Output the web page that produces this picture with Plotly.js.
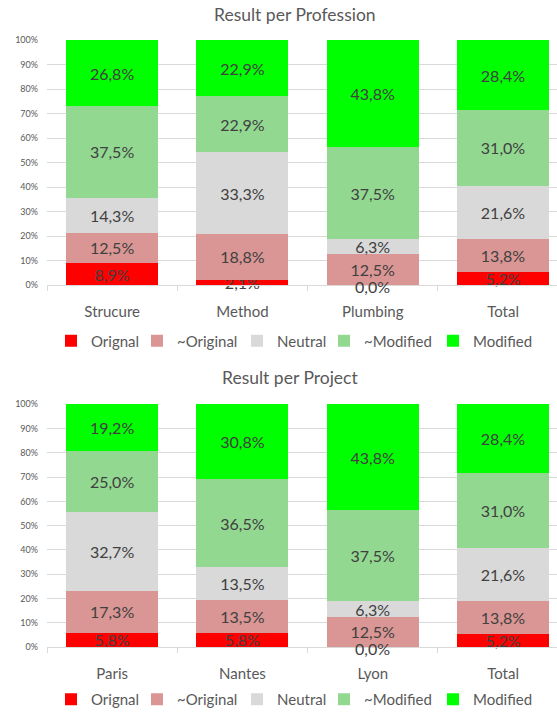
<!DOCTYPE html>
<html>
<head>
<meta charset="utf-8">
<script src="https://cdn.plot.ly/plotly-3.0.1.min.js"></script>
<style>html,body{margin:0;padding:0;background:#fff;}#chart{width:557px;height:716px;}</style>
</head>
<body>
<div id="chart"></div>
<script>
// ---- data ----
const seriesNames = ["Orignal", "~Original", "Neutral", "~Modified", "Modified"];
const seriesColors = ["#FF0000", "#DA9694", "#D9D9D9", "#92D891", "#00FF00"];

const professionCats = ["Strucure", "Method", "Plumbing", "Total"];
const profOrignal   = [8.9, 2.1, 0.0, 5.2];
const profNearOrig  = [12.5, 18.8, 12.5, 13.8];
const profNeutral   = [14.3, 33.3, 6.3, 21.6];
const profNearMod   = [37.5, 22.9, 37.5, 31.0];
const profModified  = [26.8, 22.9, 43.8, 28.4];

const projectCats = ["Paris", "Nantes", "Lyon", "Total"];
const projOrignal   = [5.8, 5.8, 0.0, 5.2];
const projNearOrig  = [17.3, 13.5, 12.5, 13.8];
const projNeutral   = [32.7, 13.5, 6.3, 21.6];
const projNearMod   = [25.0, 36.5, 37.5, 31.0];
const projModified  = [19.2, 30.8, 43.8, 28.4];

const titleTop = "Result per Profession";
const titleBottom = "Result per Project";

// ---- style ----
const FONT = "Lato, 'Open Sans', sans-serif";
const LABEL_FONT = {family: FONT, size: 16, color: '#404040'};
const legendEntryWidths = [41, 55, 42, 64, 70];   // px, per legend entry (layout only)
const fmt = v => v.toFixed(1).replace('.', ',') + '%';

function makeTraces(cats, seriesList, xa, ya, legendId) {
  return seriesList.map((vals, i) => ({
    type: 'bar',
    name: seriesNames[i],
    x: cats,
    y: vals,
    xaxis: xa,
    yaxis: ya,
    legend: legendId,
    legendwidth: legendEntryWidths[i],
    marker: {color: seriesColors[i], line: {width: 0}},
    text: vals.map(fmt),
    textposition: 'inside',
    insidetextanchor: 'middle',
    textangle: 0,
    constraintext: 'none',
    cliponaxis: false,
    textfont: LABEL_FONT,
    hoverinfo: 'name+y'
  }));
}

// labels for zero-height segments (Plotly does not draw text on empty bars)
function zeroLabels(cats, seriesList, xa, ya) {
  const out = [];
  cats.forEach((c, j) => {
    let base = 0;
    seriesList.forEach(vals => {
      if (vals[j] === 0) {
        out.push({text: fmt(vals[j]), x: c, y: base, xref: xa, yref: ya, yshift: -1,
                  showarrow: false, xanchor: 'center', yanchor: 'middle', font: LABEL_FONT});
      }
      base += vals[j];
    });
  });
  return out;
}

const profSeries = [profOrignal, profNearOrig, profNeutral, profNearMod, profModified];
const projSeries = [projOrignal, projNearOrig, projNeutral, projNearMod, projModified];

const traces = [
  ...makeTraces(professionCats, profSeries, 'x', 'y', 'legend'),
  ...makeTraces(projectCats, projSeries, 'x2', 'y2', 'legend2')
];

const H = 716, W = 557;
const px2y = p => 1 - p / H;
const px2x = p => p / W;

const xBase = {
  type: 'category',
  domain: [px2x(47), 1],
  range: [-0.5, 3.414],
  showgrid: false,
  showline: true,
  linecolor: '#D9D9D9',
  ticks: 'outside',
  tickson: 'boundaries',
  ticklen: 5,
  tickcolor: '#D9D9D9',
  ticklabelstandoff: 13,
  tickfont: {family: FONT, size: 15, color: '#595959'},
  fixedrange: true
};
const yBase = {
  range: [0, 100.12],
  tick0: 0,
  dtick: 10,
  ticksuffix: '%',
  showgrid: true,
  gridcolor: '#D9D9D9',
  gridwidth: 1,
  zeroline: false,
  showline: false,
  ticks: '',
  ticklabelstandoff: 8,
  tickfont: {family: FONT, size: 9, color: '#595959'},
  fixedrange: true
};

const legendBase = {
  orientation: 'h',
  xanchor: 'left',
  x: px2x(51),
  traceorder: 'normal',
  font: {family: FONT, size: 15, color: '#595959'},
  bgcolor: 'rgba(0,0,0,0)',
  itemclick: false,
  itemdoubleclick: false
};

const layout = {
  width: W,
  height: H,
  margin: {l: 0, r: 0, t: 0, b: 0},
  paper_bgcolor: '#FFFFFF',
  plot_bgcolor: '#FFFFFF',
  barmode: 'stack',
  bargap: 0.294,
  showlegend: true,
  xaxis: Object.assign({}, xBase, {anchor: 'y'}),
  yaxis: Object.assign({}, yBase, {domain: [px2y(285), px2y(40)], anchor: 'x'}),
  xaxis2: Object.assign({}, xBase, {anchor: 'y2'}),
  yaxis2: Object.assign({}, yBase, {domain: [px2y(647), px2y(404)], anchor: 'x2'}),
  legend: Object.assign({}, legendBase, {y: px2y(341), yanchor: 'middle'}),
  legend2: Object.assign({}, legendBase, {y: 0, yanchor: 'bottom'}),
  annotations: [
    {text: titleTop, xref: 'paper', yref: 'paper', x: px2x(295), y: px2y(15), xanchor: 'center', yanchor: 'middle', showarrow: false, font: {family: FONT, size: 17.5, color: '#595959'}},
    {text: titleBottom, xref: 'paper', yref: 'paper', x: px2x(290), y: px2y(377), xanchor: 'center', yanchor: 'middle', showarrow: false, font: {family: FONT, size: 17.5, color: '#595959'}},
    ...zeroLabels(professionCats, profSeries, 'x', 'y'),
    ...zeroLabels(projectCats, projSeries, 'x2', 'y2')
  ]
};

Plotly.newPlot('chart', traces, layout, {displayModeBar: false, responsive: false});
</script>
</body>
</html>
